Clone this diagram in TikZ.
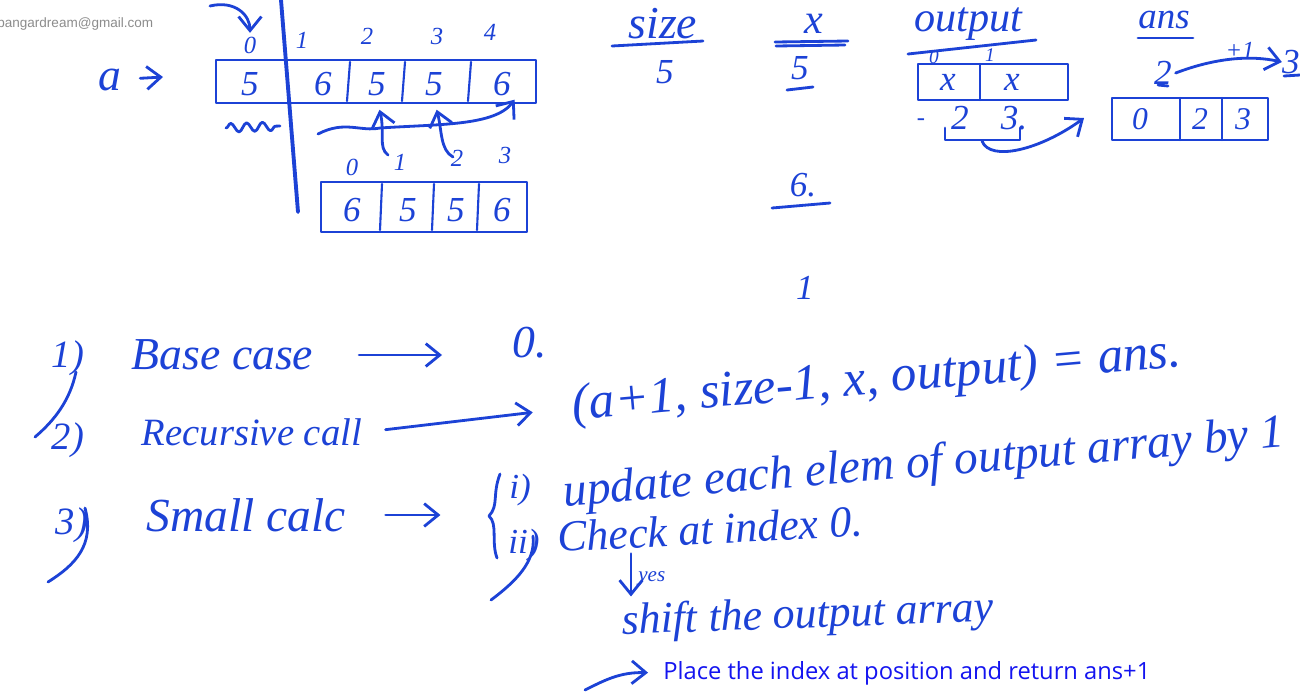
\documentclass[tikz,border=0pt]{standalone}
\usepackage{fontspec}
\setmainfont{Liberation Serif}
\newfontfamily\typedfont{Open Sans}
\newfontfamily\markfont{Liberation Sans}
\definecolor{penblue}{RGB}{28, 66, 214}
\definecolor{slideblue}{RGB}{20, 20, 240}
\definecolor{markgrey}{RGB}{140, 140, 140}
\usetikzlibrary{arrows.meta, decorations.pathmorphing, calc}

\begin{document}
\begin{tikzpicture}[x=0.02cm, y=-0.02cm,
    pen/.style={penblue, line width=1.6pt, line cap=round, line join=round},
    penarr/.style={pen, -{Straight Barb[length=8pt, width=13pt]}},
    hand/.style={text=penblue, font=\itshape\fontsize{26}{30}\selectfont, inner sep=2pt},
    digit/.style={hand, font=\itshape\fontsize{20}{24}\selectfont},
    idx/.style={hand, font=\itshape\fontsize{14}{16}\selectfont}]
    \fill[white] (0, 0) rectangle (1300, 694);
    \useasboundingbox (0, 0) rectangle (1300, 694);
    \node[anchor=west, inner sep=0pt, text=markgrey, font=\markfont\fontsize{7.7}{9}\selectfont] (mail) at (-3, 24) {pangardream@gmail.com};

    \node[hand] (a) at (110, 80) {a};
    \coordinate (atip) at (163, 77);
    \draw[penarr, shorten <=0.3cm] (a) -- (atip);
    \draw[pen] (216, 60) rectangle (536, 103);
    \foreach \xd in {350, 405, 471}
        \draw[pen, line width=1.2pt] (\xd, 62) -- (\xd-3, 101);
    \draw[pen, line width=2.2pt] (281, 0) -- (298, 212);
    \node[digit] (d0) at (250, 84) {5};
    \node[digit] (d1) at (323, 84) {6};
    \node[digit] (d2) at (377, 84) {5};
    \node[digit] (d3) at (434, 84) {5};
    \node[digit] (d4) at (502, 84) {6};
    \node[idx] (i0) at (250, 45) {0};
    \node[idx] (i1) at (302, 40) {1};
    \node[idx] (i2) at (367, 36) {2};
    \node[idx] (i3) at (437, 36) {3};
    \node[idx] (i4) at (490, 32) {4};
    \coordinate (bendA) at (210, 6);
    \draw[penarr] (bendA) .. controls (235, 0) and (250, 15) .. (i0.north);
    \draw[pen, decorate, decoration={snake, amplitude=2.5pt, segment length=9pt}] (226, 128) -- (280, 126);
    \coordinate (brace0) at (318, 134);
    \draw[penarr] (brace0) .. controls (345, 120) and (360, 132) .. (380, 128) .. controls (440, 124) and (495, 126) .. (d4.south east);
    \coordinate (up2) at (388, 155);
    \coordinate (up3) at (453, 157);
    \draw[penarr, shorten >=6pt] (up2) .. controls (378, 148) and (385, 132) .. (d2.south);
    \draw[penarr, shorten >=6pt] (up3) .. controls (440, 150) and (442, 130) .. (d3.south);

    \draw[pen] (321, 182) rectangle (527, 232);
    \foreach \xd in {382, 434, 479}
        \draw[pen, line width=1.2pt] (\xd, 184) -- (\xd-2, 230);
    \node[digit] (e0) at (352, 210) {6};
    \node[digit] (e1) at (408, 210) {5};
    \node[digit] (e2) at (456, 210) {5};
    \node[digit] (e3) at (502, 210) {6};
    \node[idx] (j0) at (352, 167) {0};
    \node[idx] (j1) at (400, 162) {1};
    \node[idx] (j2) at (457, 158) {2};
    \node[idx] (j3) at (505, 155) {3};

    \node[hand, inner sep=0pt] (size) at (663, 24) {size};
    \draw[pen] (612, 46) -- (703, 41);
    \node[digit] (size5) at (665, 72) {5};
    \node[hand, inner sep=0pt, font=\itshape\fontsize{24}{28}\selectfont] (xval) at (814, 24) {x};
    \draw[pen] (775, 42) -- (848, 41);
    \draw[pen] (776, 46) -- (845, 45);
    \node[digit] (x5) at (800, 68) {5};
    \draw[pen] (787, 90) -- (813, 87);
    \node[digit] (x6) at (803, 185) {6.};
    \draw[pen] (772, 208) -- (830, 203);
    \node[digit] (x1) at (805, 288) {1};

    \node[hand, inner sep=0pt, font=\itshape\fontsize{24}{28}\selectfont] (output) at (968, 24) {output};
    \draw[pen] (908, 54) -- (1036, 40);
    \draw[pen] (918, 64) rectangle (1068, 100);
    \draw[pen, line width=1.2pt] (980, 64) -- (980, 100);
    \node[digit] (ox0) at (948, 82) {x};
    \node[digit] (ox1) at (1012, 82) {x};
    \node[idx, font=\itshape\fontsize{11}{12}\selectfont] (oi0) at (934, 57) {0};
    \node[idx, font=\itshape\fontsize{11}{12}\selectfont] (oi1) at (990, 55) {1};
    \node[idx] (odash) at (921, 122) {-};
    \node[digit] (o2) at (960, 118) {2};
    \node[digit] (o3) at (1014, 118) {3.};
    \draw[pen] (945, 128) -- (945, 140) -- (1020, 140) -- (1020, 128);
    \coordinate (brk) at (982, 141);
    \coordinate (toans) at (1084, 118);
    \draw[penarr] (brk) .. controls (990, 162) and (1040, 150) .. (toans);

    \node[hand, inner sep=0pt, font=\itshape\fontsize{21}{24}\selectfont] (ans) at (1164, 20) {ans};
    \draw[pen] (1138, 38) -- (1193, 38);
    \node[digit] (ans2) at (1163, 73) {2};
    \draw[pen] (1158, 85) -- (1168, 86);
    \node[digit, inner sep=0pt] (ans3) at (1291, 62) {3};
    \draw[pen] (1284, 76) -- (1300, 75);
    \draw[penarr] (ans2.east) .. controls (1215, 58) and (1250, 55) .. (ans3.west);
    \node[idx] (plus) at (1240, 50) {+1};
    \draw[pen] (1112, 98) rectangle (1268, 140);
    \draw[pen, line width=1.2pt] (1180, 98) -- (1180, 140);
    \draw[pen, line width=1.2pt] (1222, 98) -- (1222, 140);
    \node[digit, font=\itshape\fontsize{18}{20}\selectfont] (k0) at (1140, 119) {0};
    \node[digit, font=\itshape\fontsize{18}{20}\selectfont] (k1) at (1200, 119) {2};
    \node[digit, font=\itshape\fontsize{18}{20}\selectfont] (k2) at (1243, 119) {3};

    \node[hand, font=\itshape\fontsize{22}{26}\selectfont] (n1) at (68, 358) {1)};
    \draw[pen] (76, 372) .. controls (70, 400) and (55, 420) .. (35, 437);
    \node[hand, anchor=west] (base) at (128, 355) {Base case};
    \node[hand] (zero) at (530, 343) {0.};
    \draw[penarr, shorten <=0.84cm, shorten >=1.34cm] (base.east) -- (base.east -| zero.west);

    \node[hand, font=\itshape\fontsize{22}{26}\selectfont] (n2) at (68, 440) {2)};
    \node[hand, anchor=west, font=\itshape\fontsize{22}{26}\selectfont] (rec) at (138, 432) {Recursive call};
    \node[hand, inner sep=0pt, rotate=5, font=\itshape\fontsize{29}{32}\selectfont] (call) at (877, 381) {(a+1, size-1, x, output) = ans.};
    \draw[penarr, shorten <=0.4cm, shorten >=0.8cm] (rec.east) -- (call.west);

    \node[hand, font=\itshape\fontsize{22}{26}\selectfont] (n3) at (72, 525) {3)};
    \draw[pen] (85, 508) .. controls (95, 545) and (75, 565) .. (48, 582);
    \node[hand, anchor=west, font=\itshape\fontsize{27}{30}\selectfont] (small) at (143, 515) {Small calc};
    \node[hand, font=\itshape\fontsize{20}{24}\selectfont] (ione) at (520, 490) {i)};
    \node[hand, font=\itshape\fontsize{20}{24}\selectfont] (itwo) at (524, 545) {ii)};
    \draw[penarr, shorten <=0.72cm, shorten >=1.3cm] (small.east) -- (small.east -| ione.west);
    \draw[pen] (500, 474) .. controls (492, 495) and (499, 505) .. (489, 516) .. controls (498, 524) and (491, 542) .. (497, 558);
    \draw[pen] (533, 536) .. controls (536, 562) and (515, 582) .. (491, 600);
    \node[hand, inner sep=0pt, rotate=4.7, font=\itshape\fontsize{27}{30}\selectfont] (update) at (924, 465) {update each elem of output array by 1};
    \node[hand, inner sep=0pt, rotate=3, font=\itshape\fontsize{25}{28}\selectfont] (check) at (710, 529) {Check at index 0.};
    \node[idx, anchor=west, inner sep=0pt, font=\itshape\fontsize{12}{14}\selectfont] (yes) at (638, 579) {yes};
    \node[hand, inner sep=0pt, rotate=2, font=\itshape\fontsize{25}{28}\selectfont] (shift) at (808, 617) {shift the output array};
    \draw[penarr, shorten <=5pt] ([xshift=-4pt]check.south -| yes.west) -- ([xshift=-4pt]shift.north -| yes.west);

    \node[anchor=west, inner sep=0pt, text=slideblue, font=\typedfont\fontsize{13.5}{16}\selectfont] (place) at (663, 673) {Place the index at position and return ans+1};
    \coordinate (hook) at (585, 690);
    \draw[penarr, shorten >=0.3cm] (hook) .. controls (605, 680) and (620, 672) .. (place.west);
\end{tikzpicture}
\end{document}
